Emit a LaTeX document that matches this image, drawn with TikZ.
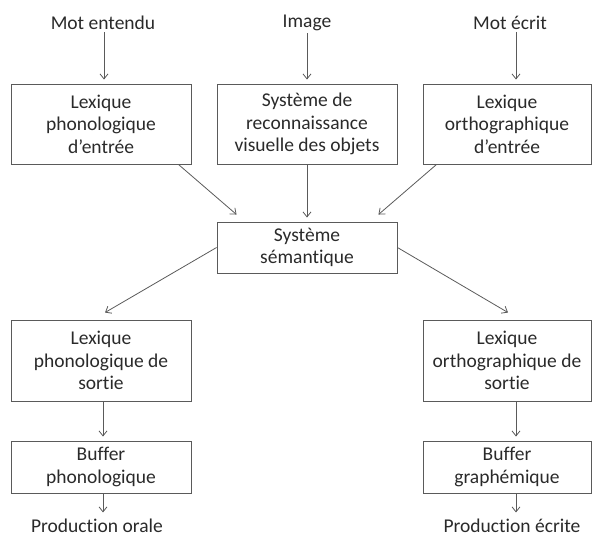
\documentclass[tikz,border=0pt]{standalone}
\usepackage{fontspec}
\setmainfont{Carlito}[Ligatures=NoCommon]
\usepackage{xcolor}
\usetikzlibrary{arrows.meta,scopes}
\definecolor{linegray}{HTML}{5A5A5A}
\definecolor{textgray}{HTML}{2A2A2A}

\begin{document}
\begin{tikzpicture}[x=1pt,y=-1pt,
    box/.style={rectangle,draw=linegray,line width=0.9pt,align=center,inner sep=0pt,
        text=textgray,font=\fontsize{19.5}{22.5}\selectfont},
    wide/.style={minimum width=180pt},
    narrow/.style={minimum width=168pt},
    word/.style={text=textgray,font=\fontsize{19.5}{22.5}\selectfont,inner sep=2pt},
    arrow/.style={draw=linegray,line width=0.8pt,-{Straight Barb[length=5pt,width=8pt]}},]
\useasboundingbox (0,0) rectangle (592,538);
% inputs
\node[word] (entendu) at (103,23) {Mot entendu};
\node[word] (image) at (307,23) {Image};
\node[word] (ecrit) at (510,23) {Mot écrit};
% input lexicons
\node[box,wide,minimum height=80pt] (lexphonE) at (101,124) {Lexique\\phonologique\\d’entrée};
\node[box,wide,minimum height=80pt] (reco) at (307,124) {Système de\\reconnaissance\\visuelle des objets};
\node[box,narrow,minimum height=80pt] (lexorthE) at (507,124) {Lexique\\orthographique\\d’entrée};
\node[box,wide,minimum height=51pt] (sem) at (307,247.5) {Système\\sémantique};
% output side
\node[box,wide,minimum height=81pt] (lexphonS) at (101,360.5) {Lexique\\phonologique de\\sortie};
\node[box,narrow,minimum height=81pt] (lexorthS) at (507,360.5) {Lexique\\orthographique de\\sortie};
\node[box,wide,minimum height=52pt] (bufphon) at (101,467) {Buffer\\phonologique};
\node[box,narrow,minimum height=52pt] (bufgraph) at (507,467) {Buffer\\graphémique};
\node[word] (prodorale) at (97,525.5) {Production orale};
\node[word] (prodecrite) at (512,525.5) {Production écrite};
% connectors
{[arrow,shorten >=4pt]
    \draw ([xshift=1pt]entendu.south) -- ([xshift=1pt]entendu.south |- lexphonE.north);
    \draw (image.south) -- (image.south |- reco.north);
    \draw ([xshift=6pt]ecrit.south) -- ([xshift=6pt]ecrit.south |- lexorthE.north);
    \draw (reco) -- (sem);
    \draw ([xshift=2pt]lexphonS.south) -- ([xshift=2pt]bufphon.north);
    \draw ([xshift=9pt]lexorthS.south) -- ([xshift=9pt]bufgraph.north);
    \draw ([xshift=2pt]bufphon.south) -- ([xshift=2pt]bufphon.south |- prodorale.north);
    \draw ([xshift=9pt]bufgraph.south) -- ([xshift=9pt]bufgraph.south |- prodecrite.north);
}
{[arrow]
    \draw ([xshift=-13pt]lexphonE.south east) -- ([xshift=20pt,yshift=7pt]sem.north west);
    \draw ([xshift=14pt]lexorthE.south west) -- ([xshift=-19pt,yshift=7pt]sem.north east);
    \draw (sem.west) -- ([xshift=4pt,yshift=7pt]lexphonS.north);
    \draw (sem.east) -- ([xshift=1pt,yshift=7pt]lexorthS.north);
}
\end{tikzpicture}
\end{document}
